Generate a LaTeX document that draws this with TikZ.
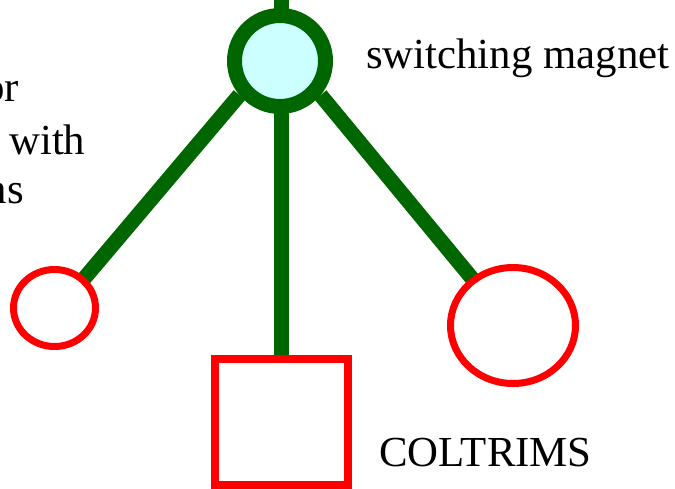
\documentclass[tikz,border=0pt]{standalone}
\usepackage{fontspec}
\setmainfont{Liberation Serif}
\usetikzlibrary{shapes.geometric}
\definecolor{dgreen}{RGB}{0,102,0}
\definecolor{lcyan}{RGB}{204,255,255}
\definecolor{bred}{RGB}{255,0,0}
\pgfdeclarelayer{background}
\pgfsetlayers{background,main}
\tikzset{
  magnet/.style={circle, draw=dgreen, fill=lcyan, line width=15pt, inner sep=0pt, minimum size=91pt},
  target/.style={ellipse, draw=bred, fill=white, line width=7pt, inner sep=0pt},
  detector/.style={rectangle, draw=bred, fill=white, line width=8pt, inner sep=0pt},
  beam/.style={draw=dgreen, line width=15pt},
  lbl/.style={inner sep=0pt, font=\fontsize{42.8}{50}\selectfont}
}
\begin{document}
\begin{tikzpicture}[x=1pt, y=-1pt]
\useasboundingbox (0,0) rectangle (675,488);
\node[magnet] (mag) at (280,61) {};
\node[target, minimum width=82pt, minimum height=77pt] (lt) at (54.5,308) {};
\node[target, minimum width=125pt, minimum height=116pt] (rt) at (513,325.5) {};
\node[detector, minimum width=133pt, minimum height=126.5pt] (sq) at (281.5,421.75) {};
\coordinate (top) at (281,-5);
\begin{pgfonlayer}{background}
\draw[beam] (top) -- (top |- mag.center);
\draw[beam] (mag.center -| sq.north) -- (sq.north);
\draw[beam, shorten >=-10pt] (mag.220) -- (lt.45);
\draw[beam, shorten >=-10pt] (mag.320) -- (rt.131);
\end{pgfonlayer}
\node[lbl, anchor=base west] (sm) at (366,68) {switching magnet};
\node[lbl, anchor=base west] (col) at (379,466) {COLTRIMS};
\node[lbl, anchor=base east] (t1) at (19,101) {or};
\node[lbl, anchor=base west] (t2) at (9,154) {with};
\node[lbl, anchor=base east] (t3) at (24,203) {ns};
\end{tikzpicture}
\end{document}
